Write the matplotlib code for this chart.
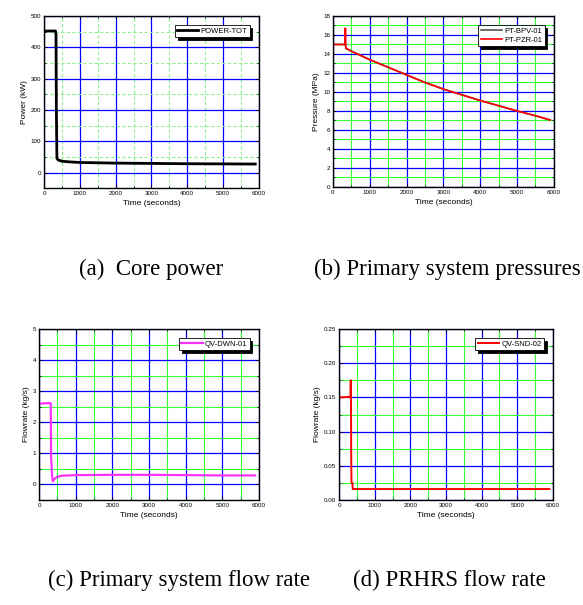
import matplotlib.pyplot as plt
import numpy as np
from matplotlib.ticker import MultipleLocator

plt.rcParams['font.family'] = ['Liberation Sans', 'DejaVu Sans']

# (a) core power
t_pow = [0, 320, 335, 345, 360, 400, 500, 700, 1000, 2000, 3000, 4000, 5000, 5900]
power = [452, 452, 440, 200, 45, 40, 36, 34, 32, 30, 29, 28, 27.5, 27]

# (b) primary system pressures
t_prs = [0, 310, 325, 330, 345, 350, 500, 1000, 1500, 2000, 2500, 3000, 3500, 4000, 4500, 5000, 5500, 5900]
pt_bpv = [15.0, 15.0, 15.0, 15.0, 14.9, 14.6, 14.3, 13.4, 12.6, 11.8, 11.0, 10.3, 9.7, 9.1, 8.55, 8.0, 7.5, 7.05]
pt_pzr = [15.0, 15.0, 15.0, 16.7, 16.7, 14.6, 14.3, 13.4, 12.6, 11.8, 11.0, 10.3, 9.7, 9.1, 8.55, 8.0, 7.5, 7.05]

# (c) primary system flow rate
t_flw = [0, 310, 320, 330, 345, 355, 380, 420, 500, 600, 1000, 2000, 3000, 4000, 5000, 5900]
qv_dwn = [2.6, 2.62, 2.6, 0.9, 0.55, 0.3, 0.1, 0.18, 0.24, 0.28, 0.3, 0.31, 0.31, 0.3, 0.29, 0.29]

# (d) PRHRS flow rate
t_snd = [0, 320, 325, 335, 340, 345, 350, 360, 375, 385, 400, 1000, 3000, 5900]
qv_snd = [0.15, 0.151, 0.175, 0.175, 0.08, 0.045, 0.025, 0.025, 0.025, 0.016, 0.016, 0.016, 0.016, 0.016]

fig = plt.figure(figsize=(5.83, 6.05), dpi=100)


def style_axes(ax, ymin, ymax, ymajor, yminor, green, green_ls):
    ax.set_xlim(0, 6000)
    ax.set_ylim(ymin, ymax)
    ax.xaxis.set_major_locator(MultipleLocator(1000))
    ax.xaxis.set_minor_locator(MultipleLocator(500))
    ax.yaxis.set_major_locator(MultipleLocator(ymajor))
    ax.yaxis.set_minor_locator(MultipleLocator(yminor))
    ax.grid(which='major', color='#0000ff', lw=0.9)
    ax.grid(which='minor', color=green, lw=0.8, linestyle=green_ls)
    ax.set_axisbelow(True)
    ax.tick_params(which='both', direction='in', top=True, right=True, labelsize=4.5, pad=2, width=0.6)
    ax.tick_params(which='major', length=2.5)
    ax.tick_params(which='minor', length=1.5)
    for s in ax.spines.values():
        s.set_linewidth(1.0)
    ax.set_xlabel('Time (seconds)', fontsize=6, labelpad=3)


def add_legend(ax):
    leg = ax.legend(loc='upper right', fontsize=5.5, fancybox=False, edgecolor='black',
                    framealpha=1, borderpad=0.3, handlelength=2.8, handletextpad=0.3,
                    labelspacing=0.2, borderaxespad=1.2,
                    shadow={'color': 'black', 'alpha': 1, 'ox': 2, 'oy': -2})
    leg.get_frame().set_linewidth(0.6)


ax1 = fig.add_axes([0.0755, 0.689, 0.3685, 0.2846])
ax1.plot(t_pow, power, color='black', lw=2, label='POWER-TOT')
style_axes(ax1, -50, 500, 100, 50, '#8fef8f', (0, (3, 2)))
ax1.set_ylabel('Power (kW)', fontsize=6, labelpad=2)
add_legend(ax1)

ax2 = fig.add_axes([0.571, 0.691, 0.379, 0.2826])
ax2.plot(t_prs, pt_bpv, color='#555555', lw=1.2, label='PT-BPV-01')
ax2.plot(t_prs, pt_pzr, color='#ff0000', lw=1.2, label='PT-PZR-01')
style_axes(ax2, 0, 18, 2, 1, '#33ff33', '-')
ax2.set_ylabel('Pressure (MPa)', fontsize=6, labelpad=2)
add_legend(ax2)

ax3 = fig.add_axes([0.0669, 0.1736, 0.3771, 0.2824])
ax3.plot(t_flw, qv_dwn, color='#ff33ff', lw=1.6, label='QV-DWN-01')
style_axes(ax3, -0.5, 5, 1, 0.5, '#33ff33', '-')
ax3.set_ylabel('Flowrate (kg/s)', fontsize=6, labelpad=2)
add_legend(ax3)

ax4 = fig.add_axes([0.5815, 0.1736, 0.367, 0.2824])
ax4.plot(t_snd, qv_snd, color='#ff0000', lw=1.4, label='QV-SND-02')
style_axes(ax4, 0, 0.25, 0.05, 0.025, '#33ff33', '-')
ax4.yaxis.set_major_formatter(plt.FormatStrFormatter('%.2f'))
ax4.set_ylabel('Flowrate (kg/s)', fontsize=6, labelpad=2)
add_legend(ax4)

cap = dict(fontsize=16.5, family=['Liberation Serif', 'DejaVu Serif'], va='center')
fig.text(0.259, 0.555, '(a)  Core power', ha='center', **cap)
fig.text(0.539, 0.555, '(b) Primary system pressures', ha='left', **cap)
fig.text(0.307, 0.041, '(c) Primary system flow rate', ha='center', **cap)
fig.text(0.770, 0.041, '(d) PRHRS flow rate', ha='center', **cap)

fig.savefig('out.png', dpi=100)
